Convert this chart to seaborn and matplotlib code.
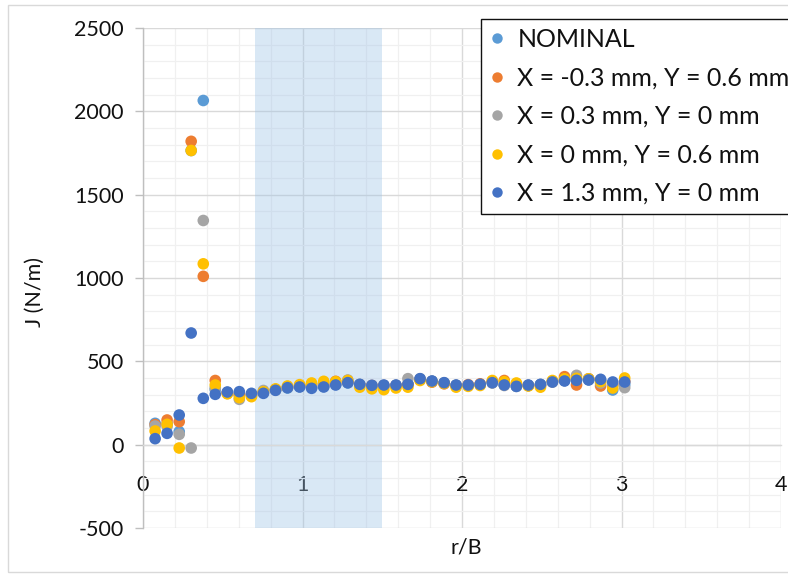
import numpy as np
import pandas as pd
import seaborn as sns
import matplotlib
matplotlib.use("Agg")
import matplotlib.pyplot as plt
from matplotlib.ticker import MultipleLocator
from matplotlib.lines import Line2D
from matplotlib.patches import Rectangle

# Normalised distance from the crack tip
r_over_b = [0.076, 0.151, 0.227, 0.302, 0.378, 0.453, 0.529, 0.604, 0.680, 0.755,
            0.831, 0.906, 0.982, 1.057, 1.133, 1.208, 1.284, 1.359, 1.435, 1.510,
            1.586, 1.661, 1.737, 1.812, 1.888, 1.963, 2.039, 2.114, 2.190, 2.265,
            2.341, 2.416, 2.492, 2.567, 2.643, 2.718, 2.794, 2.869, 2.945, 3.020]

# J-integral (N/m) for each contour, per crack-tip position
j_nominal = [128, 125, 78, 1765, 2065, 330, 312, 300, 300, 312,
             328, 340, 348, 345, 350, 362, 370, 360, 352, 352,
             355, 365, 392, 380, 370, 355, 355, 360, 372, 360,
             350, 355, 360, 378, 385, 390, 390, 385, 328, 360]
j_xm03_y06 = [120, 148, 138, 1820, 1010, 385, 312, 300, 300, 315,
              330, 345, 355, 360, 365, 380, 375, 360, 355, 355,
              355, 360, 390, 375, 365, 355, 360, 365, 380, 385,
              365, 355, 355, 380, 408, 358, 395, 352, 360, 380]
j_x03_y0 = [112, 110, 62, -20, 1345, 340, 308, 272, 295, 325,
            330, 345, 350, 345, 355, 365, 388, 360, 350, 350,
            352, 396, 395, 380, 370, 355, 355, 360, 370, 355,
            350, 355, 360, 375, 390, 416, 395, 370, 355, 342]
j_x0_y06 = [82, 122, -20, 1765, 1085, 358, 305, 282, 288, 318,
            335, 352, 360, 370, 380, 378, 385, 345, 335, 330,
            340, 345, 385, 378, 368, 345, 350, 355, 385, 378,
            370, 352, 345, 385, 395, 398, 395, 378, 340, 400]
j_x13_y0 = [36, 68, 178, 670, 278, 302, 316, 318, 308, 308,
            326, 342, 346, 338, 346, 358, 372, 362, 356, 358,
            358, 362, 396, 382, 372, 358, 358, 362, 372, 358,
            350, 358, 362, 376, 382, 386, 388, 392, 376, 376]

series_labels = ["NOMINAL",
                 "X = -0.3 mm, Y = 0.6 mm",
                 "X = 0.3 mm, Y = 0 mm",
                 "X = 0 mm, Y = 0.6 mm",
                 "X = 1.3 mm, Y = 0 mm"]
series_values = [j_nominal, j_xm03_y06, j_x03_y0, j_x0_y06, j_x13_y0]
series_colors = ["#5B9BD5", "#ED7D31", "#A5A5A5", "#FFC000", "#4472C4"]

# Region of contours used for the averaged J value
band_lo, band_hi = 0.7, 1.5

df = pd.concat(
    [pd.DataFrame({"r/B": r_over_b, "J": vals, "series": lab})
     for lab, vals in zip(series_labels, series_values)],
    ignore_index=True,
)

sns.set_theme(style="white")
plt.rcParams["font.family"] = ["Lato", "DejaVu Sans"]
plt.rcParams["axes.unicode_minus"] = False

W, H = 788, 578
fig = plt.figure(figsize=(W / 100, H / 100), dpi=100)
ax = fig.add_axes([143 / W, 1 - 528 / H, (781 - 143) / W, (528 - 28) / H])

ax.set_xlim(0, 4)
ax.set_ylim(-500, 2500)
ax.xaxis.set_major_locator(MultipleLocator(1))
ax.xaxis.set_minor_locator(MultipleLocator(0.2))
ax.yaxis.set_major_locator(MultipleLocator(500))
ax.yaxis.set_minor_locator(MultipleLocator(100))
ax.set_axisbelow(True)
ax.grid(which="major", color="#D9D9D9", linewidth=1.0, zorder=0)
ax.grid(which="minor", color="#F0F0F0", linewidth=0.9, zorder=0)

ax.axvspan(band_lo, band_hi, color="#9DC3E6", alpha=0.38, linewidth=0, zorder=1)

sns.scatterplot(data=df, x="r/B", y="J", hue="series", hue_order=series_labels,
                palette=series_colors, s=70, linewidth=0, alpha=1.0,
                ax=ax, zorder=3, legend=False)

for side in ("top", "right"):
    ax.spines[side].set_visible(False)
ax.spines["left"].set_color("#BFBFBF")
ax.spines["left"].set_linewidth(1.0)
ax.spines["bottom"].set_position(("data", 0))
ax.spines["bottom"].set_color("#D9D9D9")
ax.spines["bottom"].set_linewidth(1.0)

ax.tick_params(axis="y", which="major", direction="out", length=6, width=1,
               color="#BFBFBF", labelsize=15.5, labelcolor="#111111", pad=8, left=True)
ax.tick_params(axis="y", which="minor", length=0)
ax.tick_params(axis="x", which="both", length=0, labelsize=15.5,
               labelcolor="#111111", pad=22)

ax.set_xlabel("r/B", fontsize=15.5, color="#111111")
ax.set_ylabel("J (N/m)", fontsize=15.5, color="#111111")
ax.xaxis.set_label_coords((466 - 143) / (781 - 143), -0.018)
ax.yaxis.set_label_coords((35 - 143) / (781 - 143), (528 - 292) / 500)
ax.xaxis.label.set_va("top")
ax.yaxis.label.set_va("center")

handles = [Line2D([], [], marker="o", linestyle="", color=c, markersize=7.5,
                  markeredgewidth=0) for c in series_colors]
leg = ax.legend(handles, series_labels, loc="upper left",
                bbox_to_anchor=(481 / W, 1 - 19 / H), bbox_transform=fig.transFigure,
                frameon=True, fancybox=False, framealpha=1, edgecolor="#111111",
                fontsize=18, handlelength=0.6, handletextpad=0.5,
                labelspacing=0.62, borderpad=0.35, borderaxespad=0)
leg.get_frame().set_linewidth(1.0)
for t in leg.get_texts():
    t.set_color("#111111")

fig.patches.append(Rectangle((8 / W, 1 - 572 / H), (790 - 8) / W, (572 - 5) / H,
                             transform=fig.transFigure, fill=False,
                             edgecolor="#D9D9D9", linewidth=1.0))

fig.savefig("out.png", dpi=100)
